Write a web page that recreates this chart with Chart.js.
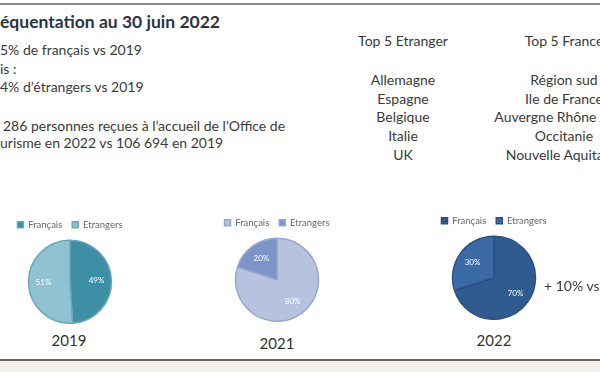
<!DOCTYPE html>
<html>
<head>
<meta charset="utf-8">
<script src="https://cdn.jsdelivr.net/npm/chart.js@4"></script>
<style>
  body { margin: 0; width: 600px; height: 372px; overflow: hidden; background: #fff; font-family: Lato, sans-serif; color: #3a3a3a; position: relative; }
  .t { position: absolute; white-space: nowrap; font-size: 14px; line-height: 16px; }
  .c { position: absolute; transform: translateX(-50%); text-align: center; }
  .pie { position: absolute; width: 140px; height: 114px; }
  #topline { position: absolute; left: 0; top: 3px; width: 600px; height: 2px; background: #8a8a8a; }
  #bottom { position: absolute; left: 0; top: 359px; width: 600px; height: 13px; background: #f2f1ed; border-top: 2px solid #666; }
</style>
</head>
<body>
<div id="topline"></div>
<div class="t" style="left:0;top:12px;font-size:17.5px;font-weight:bold;color:#2b3445;line-height:20px">équentation au 30 juin 2022</div>
<div class="t" style="left:0;top:42px">5% de français vs 2019</div>
<div class="t" style="left:0;top:61px">is :</div>
<div class="t" style="left:0;top:79px">4% d’étrangers vs 2019</div>
<div class="t" style="left:3px;top:118px">286 personnes reçues à l’accueil de l'Office de</div>
<div class="t" style="left:0;top:135px">urisme en 2022 vs 106 694 en 2019</div>

<div id="col1" class="t c" style="left:403px;top:33px"></div>
<div id="col2" class="t c" style="left:564px;top:33px"></div>

<div class="pie" style="left:0;top:210px"><canvas id="p2019"></canvas></div>
<div class="pie" style="left:207px;top:208px"><canvas id="p2021"></canvas></div>
<div class="pie" style="left:424px;top:206px"><canvas id="p2022"></canvas></div>

<div class="t c" style="left:69px;top:332px;font-size:15px;color:#333">2019</div>
<div class="t c" style="left:277px;top:335px;font-size:15px;color:#333">2021</div>
<div class="t c" style="left:494px;top:332px;font-size:15px;color:#333">2022</div>
<div class="t" style="left:544px;top:278px">+ 10% vs 2019</div>

<div id="bottom"></div>

<script>
const categories = ['Français', 'Etrangers'];
const values2019 = [49, 51];
const values2021 = [80, 20];
const values2022 = [70, 30];
const topEtranger = ['Allemagne', 'Espagne', 'Belgique', 'Italie', 'UK'];
const topFrance = ['Région sud', 'Ile de France', 'Auvergne Rhône Alpes', 'Occitanie', 'Nouvelle Aquitaine'];

function fillCol(id, title, items) {
  const el = document.getElementById(id);
  el.innerHTML = title + '<div style="height:22px"></div>' +
    items.map(s => '<div style="height:18.7px;line-height:18.7px">' + s + '</div>').join('');
}
fillCol('col1', 'Top 5 Etranger', topEtranger);
fillCol('col2', 'Top 5 France', topFrance);

// white % labels inside the slices
const sliceLabels = {
  id: 'sliceLabels',
  afterDatasetsDraw(chart) {
    const ctx = chart.ctx;
    const meta = chart.getDatasetMeta(0);
    ctx.save();
    ctx.fillStyle = '#ffffff';
    ctx.font = '8px Lato, sans-serif';
    ctx.textAlign = 'center';
    ctx.textBaseline = 'middle';
    meta.data.forEach((arc, i) => {
      const a = (arc.startAngle + arc.endAngle) / 2;
      const r = arc.outerRadius * 0.64;
      ctx.fillText(chart.data.datasets[0].data[i] + '%', arc.x + Math.cos(a) * r, arc.y + Math.sin(a) * r);
    });
    ctx.restore();
  }
};

function makePie(id, values, colors, border) {
  new Chart(document.getElementById(id), {
    type: 'pie',
    data: {
      labels: categories,
      datasets: [{
        data: values,
        backgroundColor: colors,
        borderColor: border,
        borderWidth: 1.5,
        hoverOffset: 0
      }]
    },
    options: {
      responsive: true,
      maintainAspectRatio: false,
      animation: false,
      layout: { padding: 0 },
      plugins: {
        legend: {
          position: 'top',
          labels: {
            boxWidth: 6, boxHeight: 6, padding: 10,
            color: '#666',
            font: { size: 9.5, family: 'Lato, sans-serif' }
          }
        },
        tooltip: { enabled: false }
      }
    },
    plugins: [sliceLabels]
  });
}

makePie('p2019', values2019, ['#3c8fa4', '#8fc3d2'], '#6aa7b8');
makePie('p2021', values2021, ['#b6c2de', '#7c94c7'], '#97a8d0');
makePie('p2022', values2022, ['#2f5b90', '#3c6aa4'], '#2a5285');
</script>
</body>
</html>
